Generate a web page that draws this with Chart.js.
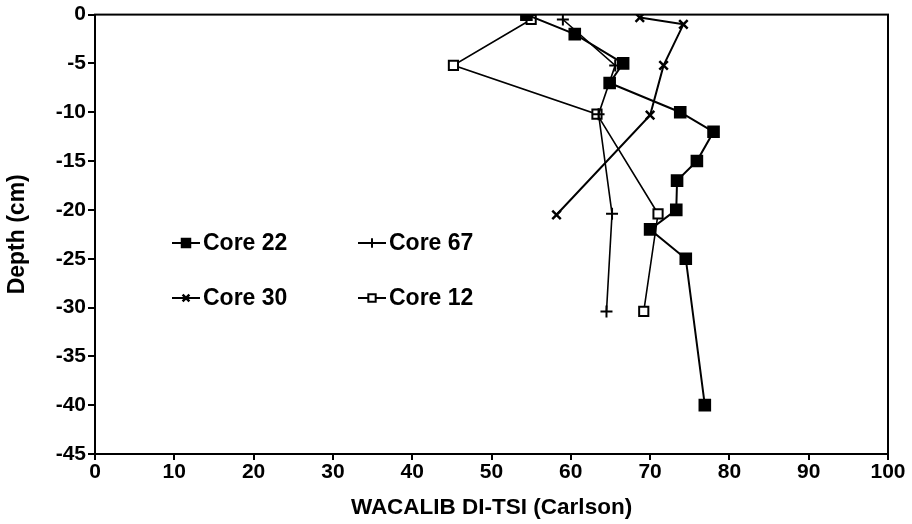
<!DOCTYPE html>
<html>
<head>
<meta charset="utf-8">
<title>Depth profiles</title>
<script src="https://cdn.jsdelivr.net/npm/chart.js@4/dist/chart.umd.min.js"></script>
<style>
  html, body { margin: 0; padding: 0; background: #fff; }
  canvas { display: block; }
</style>
</head>
<body>
<canvas id="chart" width="912" height="524"></canvas>
<script>
// TSI value (x) against sample depth in cm (y) for each core
const core22X = [54.4, 60.5, 66.6, 64.9, 73.8, 78.0, 75.9, 73.4, 73.3, 70.0, 74.5, 76.9];
const core22Y = [0, -2, -5, -7, -10, -12, -15, -17, -20, -22, -25, -40];

const core67X = [59.0, 65.6, 63.5, 65.2, 64.5];
const core67Y = [-0.5, -5.2, -10.2, -20.4, -30.4];

const core30X = [68.7, 74.2, 71.7, 70.0, 58.2];
const core30Y = [-0.3, -1, -5.2, -10.3, -20.5];

const core12X = [55.0, 45.2, 63.3, 71.0, 69.2];
const core12Y = [-0.5, -5.2, -10.2, -20.4, -30.4];

const xTicks = [0, 10, 20, 30, 40, 50, 60, 70, 80, 90, 100];
const yTicks = [0, -5, -10, -15, -20, -25, -30, -35, -40, -45];

const FONT = '"Liberation Sans", Arial, sans-serif';

function points(xs, ys) {
  return xs.map((x, i) => ({x: x, y: ys[i]}));
}

function series(label, xs, ys, style) {
  return Object.assign({
    label: label,
    data: points(xs, ys),
    showLine: true,
    borderColor: '#000',
    borderWidth: 2,
    pointBorderColor: '#000',
    pointBorderWidth: 2,
    pointHoverRadius: 0,
    fill: false,
    tension: 0
  }, style);
}

const datasets = [
  series('Core 22', core22X, core22Y, {pointStyle: 'rect', pointRadius: 7.5, pointBackgroundColor: '#000'}),
  series('Core 67', core67X, core67Y, {pointStyle: 'cross', pointRadius: 6, pointBackgroundColor: '#000', borderWidth: 1.6}),
  series('Core 30', core30X, core30Y, {pointStyle: 'crossRot', pointRadius: 6, pointBackgroundColor: '#000', pointBorderWidth: 2.5}),
  series('Core 12', core12X, core12Y, {pointStyle: 'rect', pointRadius: 6.5, pointBackgroundColor: '#fff', borderWidth: 1.6})
];

// draws the box around the plot area
const frame = {
  id: 'frame',
  afterDatasetsDraw(chart) {
    const {ctx, chartArea: a} = chart;
    ctx.save();
    ctx.strokeStyle = '#000';
    ctx.lineWidth = 2;
    ctx.strokeRect(a.left, a.top, a.right - a.left, a.bottom - a.top);
    ctx.restore();
  }
};

// two column key placed inside the plot
const keyBox = {
  id: 'keyBox',
  afterDraw(chart) {
    const ctx = chart.ctx;
    const slots = [
      {x: 172, y: 243}, {x: 358, y: 243},
      {x: 172, y: 298}, {x: 358, y: 298}
    ];
    ctx.save();
    chart.data.datasets.forEach((ds, i) => {
      const s = slots[i];
      ctx.strokeStyle = '#000';
      ctx.lineWidth = 2;
      ctx.beginPath();
      ctx.moveTo(s.x, s.y);
      ctx.lineTo(s.x + 28, s.y);
      ctx.stroke();
      ctx.fillStyle = ds.pointBackgroundColor;
      ctx.lineWidth = ds.pointBorderWidth;
      Chart.helpers.drawPoint(ctx, {
        pointStyle: ds.pointStyle,
        radius: ds.pointRadius * 0.8,
        borderWidth: ds.pointBorderWidth,
        rotation: 0
      }, s.x + 14, s.y);
      ctx.fillStyle = '#000';
      ctx.font = 'bold 23px ' + FONT;
      ctx.textBaseline = 'middle';
      ctx.textAlign = 'left';
      ctx.fillText(ds.label, s.x + 31, s.y + 1);
    });
    ctx.restore();
  }
};

new Chart(document.getElementById('chart').getContext('2d'), {
  type: 'scatter',
  data: {datasets: datasets},
  plugins: [frame, keyBox],
  options: {
    responsive: false,
    animation: false,
    devicePixelRatio: 1,
    layout: {padding: {top: 13, right: 24, left: 0, bottom: 0}},
    plugins: {
      legend: {display: false},
      tooltip: {enabled: false}
    },
    scales: {
      x: {
        type: 'linear',
        min: 0,
        max: 100,
        afterBuildTicks: (s) => { s.ticks = xTicks.map(v => ({value: v})); },
        afterFit: (s) => { s.height = 70; },
        grid: {display: true, drawOnChartArea: false, drawTicks: true, tickLength: 6, color: '#000', lineWidth: 2},
        border: {display: true, color: '#000', width: 2},
        ticks: {color: '#000', padding: 0, maxRotation: 0, font: {family: FONT, size: 21, weight: 'bold'}},
        title: {
          display: true,
          text: 'WACALIB DI-TSI (Carlson)',
          color: '#000',
          padding: {top: 0, bottom: 3},
          font: {family: FONT, size: 22.5, weight: 'bold'}
        }
      },
      y: {
        type: 'linear',
        min: -45,
        max: 0,
        afterBuildTicks: (s) => { s.ticks = yTicks.map(v => ({value: v})); },
        afterFit: (s) => { s.width = 95; },
        grid: {display: true, drawOnChartArea: false, drawTicks: true, tickLength: 7, color: '#000', lineWidth: 2},
        border: {display: true, color: '#000', width: 2},
        ticks: {color: '#000', padding: 2, font: {family: FONT, size: 21, weight: 'bold'}},
        title: {
          display: true,
          text: 'Depth (cm)',
          color: '#000',
          padding: {top: 4, bottom: 0},
          font: {family: FONT, size: 23, weight: 'bold'}
        }
      }
    }
  }
});
</script>
</body>
</html>
